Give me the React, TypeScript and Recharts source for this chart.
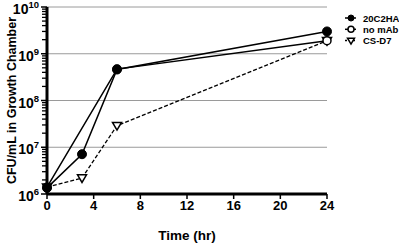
import { Legend, Line, LineChart, ReferenceLine, XAxis, YAxis } from "recharts"

const times = [0, 3, 6, 24]
const series20C2HA = [1.35e6, 7.1e6, 4.6e8, 3.0e9]
const seriesNoMAb = [1.4e6, null, 4.7e8, 1.9e9]
const seriesCSD7 = [1.4e6, 2.2e6, 2.9e7, 1.9e9]

const xTicks = [0, 4, 8, 12, 16, 20, 24]
const yTicks = [1e6, 1e7, 1e8, 1e9, 1e10]
// minor ticks 2..9 in each decade
const yMinorTicks = yTicks.slice(0, -1).flatMap((d) => [2, 3, 4, 5, 6, 7, 8, 9].map((k) => k * d))
const yAllTicks = [...yTicks, ...yMinorTicks].sort((a, b) => a - b)

const legendItems = [
  { name: "20C2HA", shape: "filled" },
  { name: "no mAb", shape: "circle" },
  { name: "CS-D7", shape: "triangle" },
]

const data = times.map((t, i) => ({
  t,
  a: series20C2HA[i],
  b: seriesNoMAb[i],
  c: seriesCSD7[i],
}))

const FONT = "Arial, 'Liberation Sans', Helvetica, sans-serif"
const TICK_SIZE = 5
const TICK_MARGIN = 2

const PowTick = (props: any) => {
  const { x, y, payload } = props
  const exp = Math.log10(payload.value)
  const major = Math.abs(exp - Math.round(exp)) < 1e-9
  const axisX = x + TICK_MARGIN + TICK_SIZE
  return (
    <g>
      <line
        x1={axisX - (major ? 6 : 5)}
        x2={axisX}
        y1={y}
        y2={y}
        stroke="#000"
        strokeWidth={major ? 1.5 : 1.3}
      />
      {major && (
        <text x={x - 1} y={y + 7} textAnchor="end" fontFamily={FONT} fontWeight="bold" fill="#000">
          <tspan fontSize={14}>10</tspan>
          <tspan fontSize={9.5} dy={-6}>
            {Math.round(exp)}
          </tspan>
        </text>
      )}
    </g>
  )
}

const Marker = ({ cx, cy, shape, r = 4 }: { cx: number; cy: number; shape: string; r?: number }) => {
  if (cx == null || cy == null) return null
  if (shape === "filled") return <circle cx={cx} cy={cy} r={r} fill="#000" stroke="#000" strokeWidth={1} />
  if (shape === "circle") return <circle cx={cx} cy={cy} r={r} fill="#fff" stroke="#000" strokeWidth={1.5} />
  const s = r + 0.5
  return (
    <path
      d={`M${cx - s},${cy - s * 0.7} L${cx + s},${cy - s * 0.7} L${cx},${cy + s} Z`}
      fill="#fff"
      stroke="#000"
      strokeWidth={1.5}
    />
  )
}

const LegendBox = () => (
  <svg width={60} height={40}>
    {legendItems.map((it, i) => {
      const y = 6 + i * 11.3
      return (
        <g key={it.name}>
          <line
            x1={0}
            x2={11}
            y1={y}
            y2={y}
            stroke="#000"
            strokeWidth={1.5}
            strokeDasharray={it.shape === "triangle" ? "2 2" : undefined}
          />
          <Marker cx={6} cy={y} shape={it.shape} r={3} />
          <text x={18} y={y + 3.5} fontSize={9.5} fontWeight="bold" fontFamily={FONT} fill="#000">
            {it.name}
          </text>
        </g>
      )
    })}
  </svg>
)

export default function App() {
  return (
    <div style={{ position: "absolute", left: 0, top: 0 }}>
      <LineChart width={399} height={244} data={data} margin={{ top: 7, right: 72, bottom: 0, left: 0 }}>
        <XAxis
          dataKey="t"
          type="number"
          domain={[0, 24]}
          ticks={xTicks}
          height={50}
          stroke="#000"
          strokeWidth={3}
          tickSize={5}
          tickLine={{ stroke: "#000", strokeWidth: 1.5 }}
          tick={{ fill: "#000", fontSize: 13, fontWeight: "bold", fontFamily: FONT }}
          label={{
            value: "Time (hr)",
            position: "insideBottom",
            offset: 4,
            fill: "#000",
            fontSize: 13.5,
            fontWeight: "bold",
            fontFamily: FONT,
          }}
        />
        <YAxis
          scale="log"
          domain={[1e6, 1e10]}
          ticks={yAllTicks}
          interval={0}
          width={47}
          stroke="#000"
          strokeWidth={3}
          tickSize={TICK_SIZE}
          tickMargin={TICK_MARGIN}
          tickLine={false}
          tick={<PowTick />}
          allowDataOverflow
          label={{
            content: ({ viewBox }: any) => (
              <text
                x={12}
                y={viewBox.y + viewBox.height / 2}
                transform={`rotate(-90 12 ${viewBox.y + viewBox.height / 2})`}
                textAnchor="middle"
                dominantBaseline="central"
                fontSize={12.5}
                fontWeight="bold"
                fontFamily={FONT}
                fill="#000"
              >
                CFU/mL in Growth Chamber
              </text>
            ),
          }}
        />
        {yTicks.slice(1).map((v) => (
          <ReferenceLine key={v} y={v} stroke="#9a9a9a" strokeWidth={1} />
        ))}
        <Legend
          content={<LegendBox />}
          layout="vertical"
          align="center"
          verticalAlign="middle"
          wrapperStyle={{ left: 345, top: 12, width: 60, height: 40 }}
        />
        <Line
          dataKey="c"
          name="CS-D7"
          stroke="#000"
          strokeWidth={1.3}
          strokeDasharray="4 2"
          isAnimationActive={false}
          dot={(p: any) => <Marker key={`c${p.index}`} cx={p.cx} cy={p.cy} shape="triangle" />}
        />
        <Line
          dataKey="b"
          name="no mAb"
          stroke="#000"
          strokeWidth={1.5}
          connectNulls
          isAnimationActive={false}
          dot={(p: any) => <Marker key={`b${p.index}`} cx={p.cx} cy={p.cy} shape="circle" />}
        />
        <Line
          dataKey="a"
          name="20C2HA"
          stroke="#000"
          strokeWidth={1.5}
          isAnimationActive={false}
          dot={(p: any) => <Marker key={`a${p.index}`} cx={p.cx} cy={p.cy} shape="filled" r={4.5} />}
        />
      </LineChart>
    </div>
  )
}
